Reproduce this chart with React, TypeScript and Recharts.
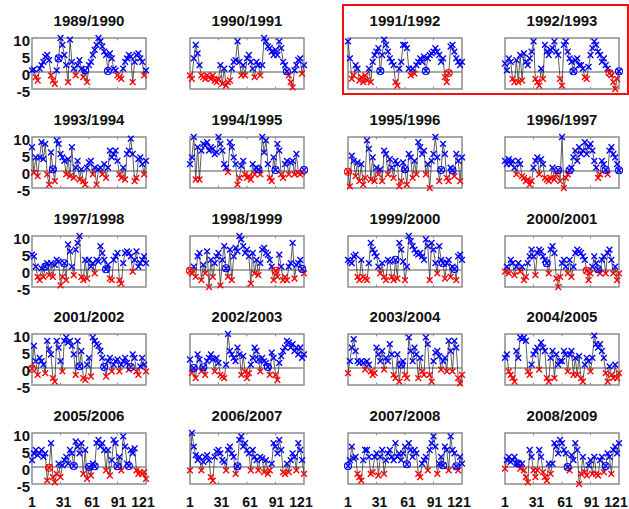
import { ComposedChart, Line, Scatter, XAxis, YAxis, ReferenceLine, ReferenceArea } from "recharts";

// day of season (every second day of the 121-day window)
const DAYS = [
  1, 3, 5, 7, 9, 11, 13, 15, 17, 19, 21, 23, 25, 27, 29, 31, 33, 35, 37, 39,
  41, 43, 45, 47, 49, 51, 53, 55, 57, 59, 61, 63, 65, 67, 69, 71, 73, 75, 77, 79,
  81, 83, 85, 87, 89, 91, 93, 95, 97, 99, 101, 103, 105, 107, 109, 111, 113, 115, 117, 119, 121,
];

const SEASONS = [
  "1989/1990", "1990/1991", "1991/1992", "1992/1993",
  "1993/1994", "1994/1995", "1995/1996", "1996/1997",
  "1997/1998", "1998/1999", "1999/2000", "2000/2001",
  "2001/2002", "2002/2003", "2003/2004", "2004/2005",
  "2005/2006", "2006/2007", "2007/2008", "2008/2009",
];

const X_TICKS = [1, 31, 61, 91, 121];
const Y_TICKS = [-5, 0, 5, 10];

const V1989 = [0.5, 0.8, -1.5, -2.5, 1, 2, 3, 4.5, 5, 3.5, -1, -2.5, -3.5, 0.5, 4, 10, 8, 5, 2, -3, 9.5, 3, 1, -1, 2, 3.5, 1, -1.5, 0.5, -3, 2, 3, 5, 6.5, 8, 10, 9, 7.5, 6, 5, 0.3, 5.5, 4, 1, 0.5, -1, -1.5, -2, 1, 3, 4, 5, 4.5, -3, 3, 5, 5.5, 4, 3, -1, 0.5];
const V1990 = [-1, -2, 4, 8, 5.5, 2, -1, -1.5, -2, -1, -1.5, -2, -1, -2.5, -3, -2, 2, -3.5, 1, -4, -3, -2.5, 1, 3, 3.5, 9, 3, -1, 2, -1, 4, 5, 3, 1, -1.5, 3, 2, -1, 2, 10, 9, 7.5, 7, 6, 5, 6.5, 5, 9, 7, 3, 2, 0.2, -1, -3, -4.5, 0.5, 2, 3.5, 4, -0.5, 2];
const V1991 = [9, 4, -2, -1, 2, 1, -2.5, -1.5, -3, -1, -2.5, 1, -3, 3, 5, 6, 7, 0.3, 5, 9.5, 8, 6, 4, 3, 2, -3, -4, 1, 3, 8, 8, 7, 1, -1, 1, -0.5, 2, 3, 4, 3, 4.5, 0.3, 4, 5, 5.5, 6, 7, 6, 5, 3, 4, -1.5, -3, -0.3, 7.5, 8, 6, 4, 3, 2, 3];
const V1992 = [2.5, 0.5, 4, 3, -2, -3, 3.5, -3, 5, -2.5, 5.5, 3, 2, 4, 6, 9, -2, -3, -4, 1, -2, 8, 6, 5, 6.5, 7, 9, 6, 5, -2, -4, 8, 9, 6, 4, 3, 0.2, 3.5, 4, 2, 2, 1, -1.5, -2, 1.5, 5, 7, 9, 8, 6, 5, 3, 4, 2, 1, -0.3, -1, -3, -5, -2, 0.2];
const V1993 = [7, -0.5, 4, -1.5, 4, 8.5, 3.5, 8, -1, -4, 5.5, 0.5, -3, 9, 8, 5, 4, 3, -1, 3.5, -1.5, 7, -2, 1, 3, -2.5, 0.5, -3, -4, 1, 2.5, 3, -1, 1, -4, 0.5, 1, -1, 2, -2, 1, 6, 4, 5, 6, 3, -1, -2, 1, -2.5, 5, 6, 9.5, 5, -3, -2, 3.5, 4, 2, -1, 3];
const V1994 = [2, 4, 10, -2.5, 7, -2.5, 6, 8, 7.5, 8.5, 6, 7, 6.5, 5, 5.5, 10, 8, 6, 2, 1, -0.3, 8.5, 7, 4, 2, -4, -2, 1.5, 3, -1, -2, -1.5, -2.5, 2, -1, 1, 0.5, -1, 10, 5.5, 9, 2, -2, -3, 4, 0.3, 8, 6, -1, -2, 2, 3, -1, 2.5, 3, -1, 5, -0.5, -1, -0.5, 0.3];
const V1995 = [-0.2, -4.5, 4.5, 3, -1.5, 2.5, -3, 2, -4, -2, 9, 6.5, -2.5, 4, -3, 1, -1, 0.5, -3, 6, 5, -1, 3.5, 1, -2, 3, 2, -4.5, -3, 2.5, 0.5, -4, 5, 4, -2, 3, -1, 8.5, 7, 5, 6, -1, 2, -5, 3, 5, 10, 4, -3, 0.3, 8, 5, -2, -3, 1, 0.2, -1.5, 5, 3, -3, 4];
const V1996 = [3, 2, 3.5, 2, 3, 1, -1, 3, 2, -1.5, -2, -3, -2.5, -4, -3, 1, 3, 4, -1, 3.5, 2, -2, -2.5, -3, -2, 1, -2.5, -1, 0.3, -3, 10, -5, -2, -1, 0.2, 1, 4, 6, 3, 7, 5, 6, 8.5, 5, 7, 8, 6, 3, 1, -2, -1, 3, 2, 0.3, -1, 6, 7, 5, 4, 2, 0.2];
const V1997 = [4.5, 4, 1, -2, -3, 0.5, -2, 1, 2, -1.5, 2, -2, 1.5, 3, 2.5, -4.5, -2, 2, -3, 7.5, 5.5, 1, -1.5, 6, 8, 10, -2, -3, 3, -2.5, 3, 1, 2, -1, 3, 2.5, 7, 5, 3, 0.2, 1.5, -2.5, -3, 3, 4, 5, -3, -4, 2, 5, 5.5, 5, 4, -0.5, 3, 5.5, 1, 2, 3, 4, 2];
const V1998 = [-0.2, -1, 1, -2, 4, 5, -3, 1.5, -1, 5.5, -5, 3, -2, 2, 4, 5, -4.5, 3, 7, 0.5, -2, 6, -3, 4, 6.5, 5.5, 10, 9, 7, 5, 6, 4, -4, 5, -1, 3, -1.5, 2, 6, 6.5, 5, 4.5, 3, 1, -3, -0.2, -2, 4.5, 1, -3, -2, -3, 1, 2, 8, -2.5, 1.5, 2, 3, 0.3, -1];
const V1999 = [3, 2.5, 2, 4, 4.5, -2, -3, 3, -2, -2.5, -3, 2, 8, 6, 5, 4, 1, -1, 2, -2, -3, 3, 2.5, -2, -3, 3, -2.5, 8, 6, 2.5, -3, 1, 10, 8.5, 7, 6, 5, 4.5, 5, 4, 3, 9, 7, -3, 8, 6, 2, -1, 7, 3, 2, -2.5, 2, 3, -2, 1, 0.3, -3, 4, 4.5, 3];
const V2000 = [-0.5, 1, -1, 3, 2, -1.5, 1, 2, -0.5, 1, -3, -2, 2, 4, 6, 4, -1.5, 5, 6, 5.5, 4, 3, 2, -1, 6, 7, 5, -2.5, -5, -2, 2, 3, 1, -1, 3, -2, 1, 5, 6, 5.5, 5, 4, 3, -0.2, -3, -1, 1, 4, 2, 0.2, -1, 3, 4, -1, 5, 6, 3, -1, 1, -3, -1];
const V2001 = [-0.2, 6.5, 2, -2, 3, 2, 1, -1.5, 8, 5.5, 4, -3, -4, 8, 6, 2, -1, 8, 9, 7.5, 8, 6.5, 4, -2, 8, 0.5, 5, -3, -3.5, 1, 3, -2.5, 9, 8, 7, 6.5, 5, 3, 0.3, -2.5, 2, 3, -1, 1, 2, 2.5, -1, 1, 2, 3, 1.5, -0.5, 0.3, 4, 3, -1, -2, 0.5, 3, 1, -1];
const V2002 = [2.5, -1.5, 0, -3, 4, 2.5, -1, 0.2, -2, 2, 3, 4, 2.5, -1, 3, 1.5, -2, -2.5, -3, 1, 10, 5, 4, 3, 2, 6, 4, -2, 3.5, -1, -3, -1.5, 1, 3, 6, 5, 2.5, -1, 3, 2, 1.5, 0.3, -2, 4.5, 3, -2, -3.5, 1.5, 3.5, 5, 6, 8, 7.5, 6, 7, 5, 6, 4, 6, 3, 4];
const V2003 = [-1.5, 2, 6, 8.5, 5, 2, 1.5, 2, 1.5, -0.5, 2, 1, -1, -2, -1.5, 6, 4, 2, 5, -0.5, 3, 2, 7, 4, -2, -3, 4, -4, 1, 2, -2, -3, 9, 5, 2, 6, 4, -3, 3, -1, -2, 9, 7, -2, -4, 2, 4.5, 5, 3.5, -0.5, 2, 3, -1, 8, 5, -1, 8, 6, -3, -4.5, -2];
const V2004 = [3, 4, -1, -2, -3, -4, 5, 3, 9, 8.5, 9, 8, -1, -2, 1, 4, 5, 6, -0.5, 7.5, 6, 5, -3, -4, 3, 5, -3, 4, 1, 2, 2, 5, 4, -1, 4, 5, -2, 3, -2, 3.5, -3, -4, 1, 3, 2, -1, 3, 9.5, 7, 6, 7, 5, 3, -1.5, -4, 0.5, -2, -3, 1, -3, -1.5];
const V2005 = [2, 4, 5, 3.5, 4, 5, 3, 4, -4, -0.2, 7, -3, -4.5, -2, 1, -3, 0.5, 2, 3, 1, 5, 4, 0.3, 7.5, 6, 4, 7, -2, 5, -3.5, 0, -2.5, 1, 0.2, 7, 8, 6, 7, 5, -1, 5, -2.5, 2, 8, 7, 0.2, 3, -1, 9, 6, 1, 0.3, 5, 4, 5.5, -1, -2, -1.5, -2, -1.5, -3.5];
const V2006 = [-1, 10, 6, 3.5, 2, 3, -1, 1.5, 3, 3.5, 2, -3, -4, 3, 4.5, 5, 4, 2, 1.5, -1, 5, 6, 4, 3, -2, 0.2, 8, 9, 6, 7, 5, 4, -1, 5, 3, 2, -1, 3, 2.5, -1.5, 2, -2, -1, 1, 7, 6, 4, 8, 5, -1.5, -2, 1, -1.5, 2, 4, 3, -1, 7, 5, 2, -2];
const V2007 = [0.3, 2, 6, 2.5, 3, -2, -3, -4, 2, 5, 5, 3, -2, -1.5, 3, 4, -2.5, 3, 5, -2, 2, 4, 5, 3, 2, 7, 3, 4, 2, 4, 6, 0.8, 7, 5, 3, 5, 4, -2, -3, 1, 2, 3, -1, 5, 7, 9, 6, -2, 1, 3, 0.5, 6, 5, -1, 9, 5, 4, 0.2, -1, 3, 1];
const V2008 = [-0.5, 2, 3, 1.5, 2, 3, 1, 1, -0.5, 1, -1, -3, -4.5, 5, 3, -1, -3, -1, 5, 3, -1.5, -3, -4, 1, -2, 1, 7, 6, 4, 8, 7, 5, 4, 0, -1, 3.5, 2, 7, 5, -5, -2, 3, -1.5, -2.5, 0.5, 2, -2, 3, -2, -2.5, 2, 3, -1.5, 0.3, 4, 3, -2, 5, 6, 4, 7];

// index of the ringed days in each season
const R1989 = [14, 28, 40];
const R1990 = [51];
const R1991 = [17, 41, 53];
const R1992 = [36, 55, 60];
const R1993 = [11];
const R1994 = [36, 45, 60];
const R1995 = [0, 30, 49, 55];
const R1996 = [28, 34, 53, 60];
const R1997 = [7, 17, 39];
const R1998 = [0, 19, 45, 59];
const R1999 = [25, 50, 56];
const R2000 = [22, 43, 49];
const R2001 = [0, 25, 38, 52];
const R2002 = [2, 7, 36, 41];
const R2003 = [28];
const R2004: number[] = [];
const R2005 = [9, 22, 30, 33, 45, 51];
const R2006 = [25];
const R2007 = [0, 31, 50, 57];
const R2008 = [7, 33, 53];

const VALUES = [V1989, V1990, V1991, V1992, V1993, V1994, V1995, V1996, V1997, V1998, V1999, V2000, V2001, V2002, V2003, V2004, V2005, V2006, V2007, V2008];
const RINGS = [R1989, R1990, R1991, R1992, R1993, R1994, R1995, R1996, R1997, R1998, R1999, R2000, R2001, R2002, R2003, R2004, R2005, R2006, R2007, R2008];

const BOX_LEFT = [32, 190, 348, 505];
const BOX_TOP = [38, 137, 236, 334, 433];
const BOX_W = 114;
const BOX_H = 51;
const PAD_L = 40;
const PAD_R = 16;
const PAD_T = 14;
const PAD_B = 28;

// small horizontal nudge of the day labels, as they sit in the original
const LABEL_DX: Record<number, number> = { 1: 0, 31: 3, 61: 3, 91: 1, 121: -3 };

const BLUE = "#0000ff";
const RED = "#ff0000";
const GRAY = "#8c8c8c";
const FONT = "'Liberation Sans', Arial, Helvetica, sans-serif";

function cross(color: string) {
  return (p: any) => {
    const { cx, cy } = p;
    if (cx == null || cy == null) return <g />;
    const s = 2.9;
    return (
      <path
        d={`M${cx - s},${cy - s}L${cx + s},${cy + s}M${cx - s},${cy + s}L${cx + s},${cy - s}`}
        stroke={color}
        strokeWidth={1.35}
        fill="none"
      />
    );
  };
}

const ring = (p: any) => {
  const { cx, cy, payload } = p;
  if (cx == null || cy == null) return <g />;
  return <circle cx={cx} cy={cy} r={3.5} fill="none" stroke={payload.v < 0 ? RED : BLUE} strokeWidth={1.1} />;
};

const xTick = (p: any) => (
  <text
    x={p.x + (LABEL_DX[p.payload.value] ?? 0)} y={p.y + 23} textAnchor="middle"
    fontFamily={FONT} fontWeight="bold" fontSize={14} fill="#111"
  >
    {p.payload.value}
  </text>
);

const yTick = (p: any) => (
  <text x={p.x} y={p.y + 8} textAnchor="end" fontFamily={FONT} fontWeight="bold" fontSize={15} fill="#111">
    {p.payload.value}
  </text>
);

function Panel({ k }: { k: number }) {
  const row = Math.floor(k / 4);
  const col = k % 4;
  const showY = col === 0;
  const showX = row === 4;
  const rows = DAYS.map((day, i) => ({ day, v: VALUES[k][i] }));
  const pos = rows.filter((d) => d.v >= 0);
  const neg = rows.filter((d) => d.v < 0);
  const rings = RINGS[k].map((i) => rows[i]);
  const left = BOX_LEFT[col];
  const top = BOX_TOP[row];

  return (
    <>
      <div
        style={{
          position: "absolute", left, top: top - 24.7, width: BOX_W, textAlign: "center",
          fontFamily: FONT, fontWeight: "bold", fontSize: 15, lineHeight: "15px", color: "#111",
        }}
      >
        {SEASONS[k]}
      </div>
      <div style={{ position: "absolute", left: left - PAD_L, top: top - PAD_T }}>
        <ComposedChart
          width={PAD_L + BOX_W + PAD_R}
          height={PAD_T + BOX_H + PAD_B}
          data={rows}
          margin={{ top: PAD_T, right: PAD_R, left: showY ? 0 : PAD_L, bottom: showX ? 0 : PAD_B }}
        >
          <XAxis
            type="number" dataKey="day" domain={[1, 121]} ticks={X_TICKS} interval={0}
            hide={!showX} height={PAD_B} axisLine={false} tickLine={false} tickSize={0} tickMargin={0} tick={xTick}
          />
          <YAxis
            type="number" domain={[-5, 10]} ticks={Y_TICKS} interval={0}
            hide={!showY} width={PAD_L} axisLine={false} tickLine={false} tickSize={0} tickMargin={2} tick={yTick}
          />
          <ReferenceArea x1={1} x2={121} y1={-5} y2={10} fill="none" stroke={GRAY} strokeWidth={1.5} />
          <ReferenceLine y={0} stroke={GRAY} strokeWidth={1.5} />
          {X_TICKS.slice(1, -1).map((t) => (
            <ReferenceLine key={"t" + t} segment={[{ x: t, y: 10 }, { x: t, y: 9.3 }]} stroke={GRAY} strokeWidth={1} />
          ))}
          {X_TICKS.slice(1, -1).map((t) => (
            <ReferenceLine key={"b" + t} segment={[{ x: t, y: -5 }, { x: t, y: -4.3 }]} stroke={GRAY} strokeWidth={1} />
          ))}
          <Line
            type="linear" dataKey="v" stroke="#2a2a2a" strokeWidth={0.75} dot={false} activeDot={false}
            isAnimationActive={false}
          />
          <Scatter data={pos} dataKey="v" shape={cross(BLUE)} isAnimationActive={false} />
          <Scatter data={neg} dataKey="v" shape={cross(RED)} isAnimationActive={false} />
          {rings.length > 0 && <Scatter data={rings} dataKey="v" shape={ring} isAnimationActive={false} />}
        </ComposedChart>
      </div>
    </>
  );
}

export default function App() {
  return (
    <div style={{ position: "absolute", left: 0, top: 0, width: 629, height: 509, background: "#fff" }}>
      {SEASONS.map((_, k) => (
        <Panel key={k} k={k} />
      ))}
      <div
        style={{
          position: "absolute", left: 342, top: 4, width: 287, height: 91,
          border: "2px solid #f01010", boxSizing: "border-box",
        }}
      />
    </div>
  );
}
